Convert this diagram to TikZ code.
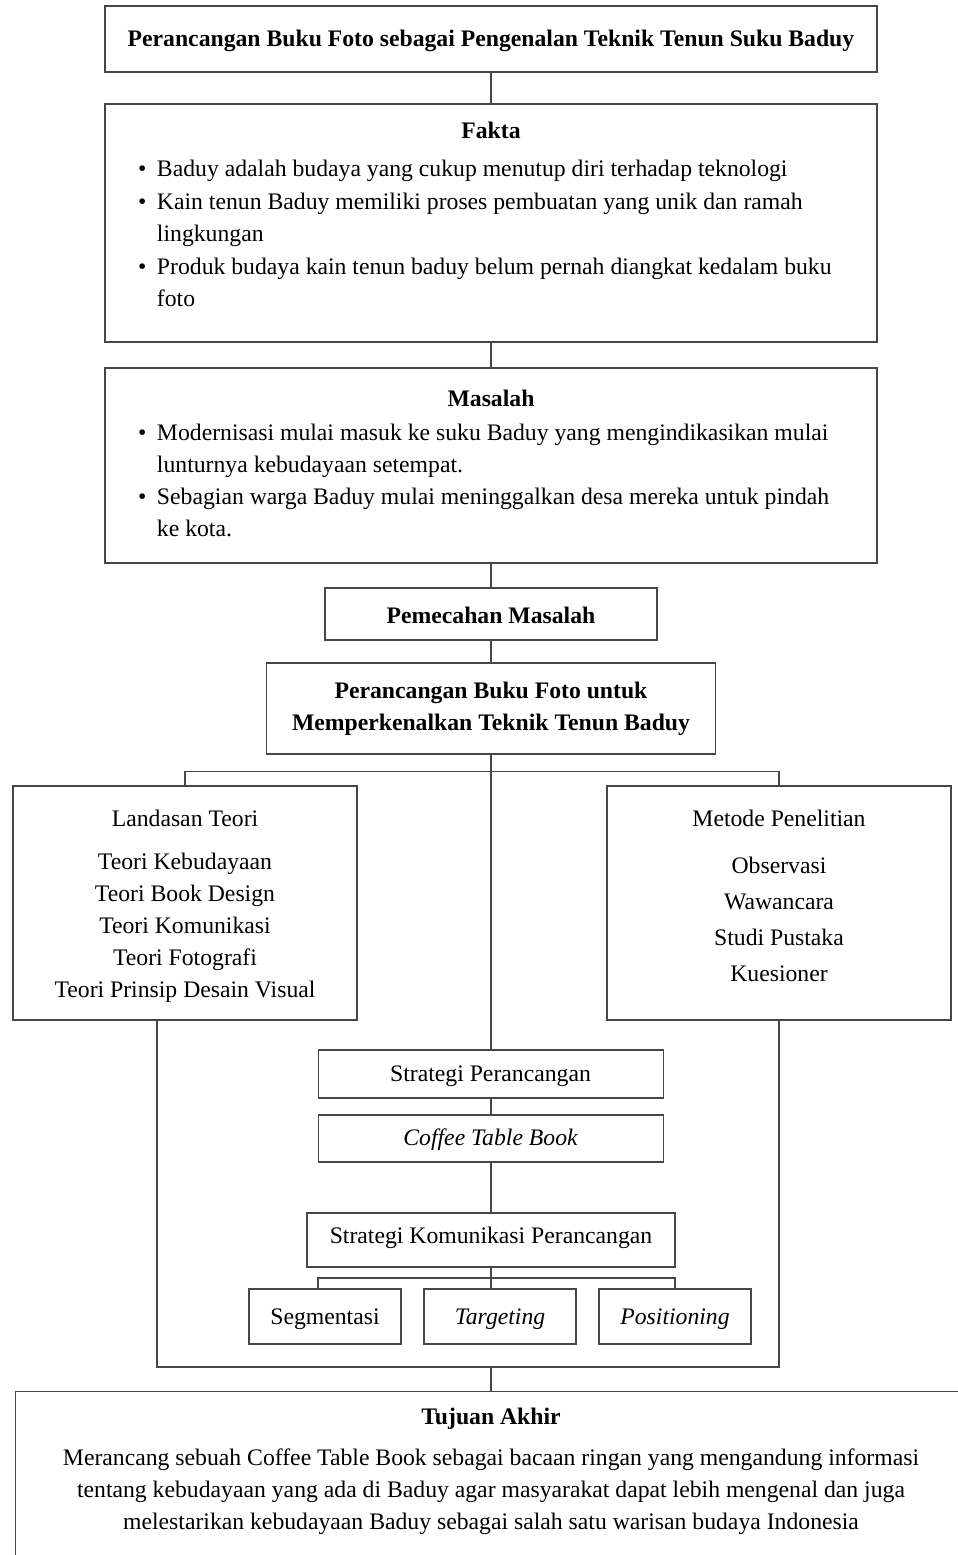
\documentclass[tikz,border=0pt]{standalone}
\usepackage{fontspec}
\setmainfont{Liberation Serif}
\newcommand\myfs{\fontsize{23.7}{32}\selectfont}
\newcommand\myfsb{\fontsize{23.7}{32.5}\selectfont}
\newcommand\myfsc{\fontsize{23.7}{36}\selectfont}
\begin{document}
\begin{tikzpicture}[x=1pt,y=-1pt,
  box/.style={draw=black!72, line width=1.3pt, inner sep=0pt, fill=white},
  con/.style={draw=black!72, line width=1.3pt},
  txt/.style={inner sep=0pt, font=\myfs},
  hd/.style={inner sep=0pt, font=\myfs\bfseries}]
\useasboundingbox (0,0) rectangle (958,1555);
\fill[white] (0,0) rectangle (958,1555);

% boxes
\node[box, minimum width=772pt, minimum height=66pt] (title) at (491,39) {};
\node[box, minimum width=772pt, minimum height=238pt] (fakta) at (491,223) {};
\node[box, minimum width=772pt, minimum height=195pt] (masalah) at (491,465.5) {};
\node[box, minimum width=332pt, minimum height=52pt] (pemecahan) at (491,614) {};
\node[box, minimum width=449pt, minimum height=91pt] (perancangan) at (491,708.5) {};
\node[box, minimum width=344pt, minimum height=234pt] (landasan) at (185,903) {};
\node[box, minimum width=344pt, minimum height=234pt] (metode) at (779,903) {};
\node[box, minimum width=345pt, minimum height=48pt] (strategi) at (491,1074) {};
\node[box, minimum width=345pt, minimum height=47pt] (coffee) at (491,1138.5) {};
\node[box, minimum width=368pt, minimum height=54pt] (komunikasi) at (491,1240) {};
\node[box, minimum width=152pt, minimum height=55pt] (segmentasi) at (325,1316.5) {};
\node[box, minimum width=152pt, minimum height=55pt] (targeting) at (500,1316.5) {};
\node[box, minimum width=152pt, minimum height=55pt] (positioning) at (675,1316.5) {};
\node[box, anchor=north west, minimum width=1000pt, minimum height=250pt] (tujuan) at (15,1391) {};

% connectors
\draw[con] (title.south) -- (fakta.north);
\draw[con] (fakta.south) -- (masalah.north);
\draw[con] (masalah.south) -- (pemecahan.north);
\draw[con] (pemecahan.south) -- (perancangan.north);
\draw[con] (perancangan.south) -- (strategi.north);
\draw[con] (landasan.north) -- ++(0,-14) -| (metode.north);
\draw[con] (strategi.south) -- (coffee.north);
\draw[con] (coffee.south) -- (komunikasi.north);
\coordinate (kb) at (491,1278);
\draw[con] (komunikasi.south) -- (kb);
\draw[con] ([xshift=-7pt]segmentasi.north) |- (kb) -| (positioning.north);
\draw[con] (kb) -- (targeting.north -| kb);
\coordinate (bb) at (491,1367);
\draw[con] ([xshift=-28pt]landasan.south) |- (bb) -| (metode.south);
\draw[con] (bb) -- (tujuan.north -| bb);

% texts
\node[hd] (titleT) at (491,40.5) {Perancangan Buku Foto sebagai Pengenalan Teknik Tenun Suku Baduy};
\node[hd] (faktaT) at (491,130) {Fakta};
\node[txt, anchor=north west] (faktaL) at (138,154) {\myfsb\begin{tabular}{@{}l@{\hspace{10.5pt}}l@{}}
• & Baduy adalah budaya yang cukup menutup diri terhadap teknologi\\
• & Kain tenun Baduy memiliki proses pembuatan yang unik dan ramah\\
  & lingkungan\\
• & Produk budaya kain tenun baduy belum pernah diangkat kedalam buku\\
  & foto
\end{tabular}};
\node[hd] (masalahT) at (491,398) {Masalah};
\node[txt, anchor=north west] (masalahL) at (138,418) {\myfs\begin{tabular}{@{}l@{\hspace{10.5pt}}l@{}}
• & Modernisasi mulai masuk ke suku Baduy yang mengindikasikan mulai\\
  & lunturnya kebudayaan setempat.\\
• & Sebagian warga Baduy mulai meninggalkan desa mereka untuk pindah\\
  & ke kota.
\end{tabular}};
\node[hd] (pemecahanT) at (491,615) {Pemecahan Masalah};
\node[hd, anchor=north] (perancanganT) at (491,676) {\begin{tabular}{@{}c@{}}
Perancangan Buku Foto untuk\\
Memperkenalkan Teknik Tenun Baduy
\end{tabular}};
\node[txt] (landasanT) at (185,818) {Landasan Teori};
\node[txt, anchor=north] (landasanL) at (185,847) {\begin{tabular}{@{}c@{}}
Teori Kebudayaan\\
Teori Book Design\\
Teori Komunikasi\\
Teori Fotografi\\
Teori Prinsip Desain Visual
\end{tabular}};
\node[txt] (metodeT) at (779,818) {Metode Penelitian};
\node[txt, anchor=north] (metodeL) at (779,848) {\myfsc\begin{tabular}{@{}c@{}}
Observasi\\
Wawancara\\
Studi Pustaka\\
Kuesioner
\end{tabular}};
\node[txt] (strategiT) at (490.5,1076.5) {Strategi Perancangan};
\node[txt] (coffeeT) at (490.5,1139.5) {\itshape Coffee Table Book};
\node[txt] (komunikasiT) at (491,1237.5) {Strategi Komunikasi Perancangan};
\node[txt] (segmentasiT) at (325,1319.5) {Segmentasi};
\node[txt] (targetingT) at (500,1319.5) {\itshape Targeting};
\node[txt] (positioningT) at (675,1319.5) {\itshape Positioning};
\node[hd] (tujuanT) at (491,1419) {Tujuan Akhir};
\node[txt, anchor=north] (tujuanL) at (491,1443) {\begin{tabular}{@{}c@{}}
Merancang sebuah Coffee Table Book sebagai bacaan ringan yang mengandung informasi\\
tentang kebudayaan yang ada di Baduy agar masyarakat dapat lebih mengenal dan juga\\
melestarikan kebudayaan Baduy sebagai salah satu warisan budaya Indonesia
\end{tabular}};
\end{tikzpicture}
\end{document}
